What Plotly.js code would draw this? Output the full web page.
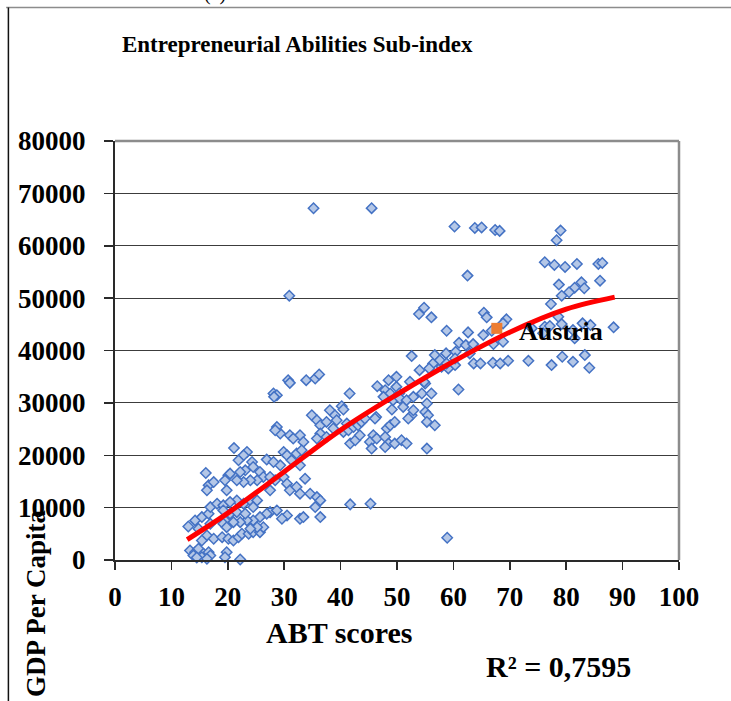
<!DOCTYPE html>
<html>
<head>
<meta charset="utf-8">
<script src="https://cdn.plot.ly/plotly-3.0.1.min.js"></script>
<style>html,body{margin:0;padding:0;background:#fff;}#chart{width:731px;height:701px;}</style>
</head>
<body>
<div id="chart"></div>
<script>
// ABT score (x) and GDP per capita (y) for each country-year
const abtScores = [
13.0,14.2,15.4,16.6,16.9,18.1,19.2,14.8,16.3,17.5,15.4,16.9,19.5,13.3,14.2,14.8,15.7,16.6,13.9,15.4,16.9,16.3,14.5,19.8,19.5,22.2,16.1,16.6,17.5,16.3,20.1,
34.9,35.8,36.4,38.1,39.0,37.5,38.7,36.4,37.5,35.8,39.3,28.7,29.3,28.4,31.0,32.8,31.6,33.4,29.9,30.5,32.2,33.1,31.3,32.8,29.3,26.9,28.1,23.4,22.8,21.9,21.1,
24.3,24.5,23.1,22.2,20.4,19.5,19.8,25.7,26.3,25.2,24.0,22.8,21.6,27.5,28.4,27.5,29.9,30.5,31.0,32.2,33.7,32.8,34.6,35.8,36.4,35.5,36.4,32.8,33.4,30.5,29.6,
27.5,26.9,28.7,25.7,24.5,23.4,22.2,21.0,19.2,21.6,20.4,22.8,24.0,25.2,24.5,19.2,20.4,21.6,23.1,19.0,20.1,21.0,21.9,22.5,23.7,24.5,25.7,26.3,25.2,24.0,19.8,
30.9,28.1,28.7,28.2,30.7,31.0,33.9,35.5,36.2,41.6,40.2,40.5,46.5,48.5,49.9,47.9,48.8,49.9,50.4,46.3,49.1,
41.1,40.5,41.4,42.3,41.7,42.6,43.4,43.1,43.7,44.3,46.1,45.8,45.2,45.5,46.4,48.2,48.8,49.6,47.9,48.5,49.6,50.8,51.7,51.1,52.6,52.0,52.9,54.4,55.0,56.1,55.3,
55.0,55.5,55.3,56.7,55.3,60.9,59.1,60.3,57.9,56.4,41.7,45.3,58.9,35.2,45.5,
52.3,47.6,49.3,50.5,51.7,52.9,47.9,
53.9,54.8,56.1,52.6,56.7,57.6,55.7,58.7,60.4,61.0,62.2,63.5,62.9,54.8,54.0,58.8,62.6,65.4,65.9,69.4,68.8,66.8,65.3,67.1,68.8,63.6,64.8,67.0,68.3,69.7,73.3,60.3,58.8,
60.2,63.8,65.0,67.4,68.2,79.0,78.3,62.5,76.2,77.9,79.8,81.9,85.7,86.4,86.0,78.7,82.7,83.2,81.5,80.5,79.2,77.3,78.6,79.2,81.2,82.9,84.3,81.5,88.4,76.2,77.1,
77.4,79.3,81.2,83.3,84.1,73.9,75.9
];
const gdpPerCapita = [
6400,7560,8190,8840,10100,10750,10430,5970,4690,4060,3730,6930,7560,1820,1490,2140,1190,1490,860,540,860,230,480,1490,540,100,16610,14250,14880,13300,16160,
27640,26690,25730,28600,27640,26370,25100,24140,23490,23180,26690,25400,24140,24770,23820,23820,23180,22540,20620,19990,20320,20950,19030,18080,18080,19170,18710,20620,19990,19030,21370,
18710,17750,17120,16800,16490,15210,13300,16800,15840,15210,15210,14880,15210,15840,15210,13300,15840,14580,13300,13930,15530,12660,12660,12010,11380,10100,8190,7880,8190,8510,7880,
9140,8840,9470,8190,7560,7560,7230,7230,6930,11380,11060,10750,11380,11380,10100,9470,8840,9140,8840,4360,4060,3730,4360,5010,5010,5320,5320,6270,6270,5970,6270,
50470,31790,31470,31150,34340,33820,34340,34660,35430,31790,29370,28730,33190,34340,34970,32430,31790,33060,31790,27320,28730,
26050,24450,24770,25400,22230,22860,23820,25730,26370,27010,27010,23820,22540,21270,23180,25100,25730,26370,23490,22230,22230,22860,22230,29230,27640,27010,28600,31790,33700,31790,29880,
28270,27640,26370,25730,21270,32560,36580,37210,36890,37530,10620,10750,4250,67160,67180,
34020,31150,30520,30840,30520,31150,21580,
46960,48170,46330,38930,39120,38160,36580,39450,39750,41470,41030,41220,39450,34010,36250,43770,43460,47210,46330,45950,45180,43770,42950,41230,41670,37530,37530,37650,37530,38030,38030,38490,37530,
63670,63400,63500,63000,62840,62900,61060,54300,56850,56340,55960,56530,56530,56720,53330,52580,53020,51880,52000,51120,50470,48880,46450,45050,43900,45180,44860,42320,44420,44530,44670,
37210,38800,37840,39120,36700,44230,43270
];
// Highlighted country
const austriaName = ["Austria"];
const austriaX = [67.7];
const austriaY = [44230];
// Polynomial trend line
const trendX = [12.8, 20, 30, 40, 50, 60, 70, 80, 88.6];
const trendY = [3900, 8950, 16850, 24800, 31600, 37900, 43500, 47900, 50200];
// Texts
const chartTitle = "Entrepreneurial Abilities Sub-index";
const xTitle = "ABT scores";
const yTitle = "GDP Per Capita";
const rSquared = "R² = 0,7595";

const serif = "Liberation Serif, Times New Roman, serif";

const traces = [
  {
    type: "scatter", mode: "markers", x: abtScores, y: gdpPerCapita, cliponaxis: false,
    marker: {symbol: "diamond", size: 8, color: "#b4c7e7", line: {color: "#4472c4", width: 1.5}},
    hoverinfo: "skip", showlegend: false
  },
  {
    type: "scatter", mode: "markers", x: austriaX, y: austriaY, cliponaxis: false,
    marker: {symbol: "square", size: 11, color: "#ed7d31", line: {width: 0}},
    hoverinfo: "skip", showlegend: false
  },
  {
    type: "scatter", mode: "lines", x: trendX, y: trendY, cliponaxis: false,
    line: {color: "#ff0000", width: 5, shape: "spline"},
    hoverinfo: "skip", showlegend: false
  }
];

const layout = {
  width: 731, height: 701,
  margin: {l: 115, r: 52, t: 141, b: 141, pad: 0},
  paper_bgcolor: "#ffffff", plot_bgcolor: "#ffffff",
  showlegend: false,
  title: {
    text: chartTitle, xref: "paper", x: 0.323, xanchor: "center",
    yref: "container", y: 0.937, yanchor: "middle",
    font: {family: serif, size: 23, weight: "bold", color: "#000"}
  },
  xaxis: {
    range: [0, 100], dtick: 10, tick0: 0, automargin: false,
    showgrid: false, zeroline: false,
    showline: true, linecolor: "#2a2a2a", linewidth: 2,
    ticks: "outside", ticklen: 8, tickwidth: 1.5, tickcolor: "#2a2a2a",
    ticklabelstandoff: 4,
    tickfont: {family: serif, size: 27, weight: "bold", color: "#000"}
  },
  yaxis: {
    range: [0, 80000], dtick: 10000, tick0: 0, tickformat: "d", automargin: false,
    showgrid: true, gridcolor: "#3c3c3c", gridwidth: 1, zeroline: false,
    showline: true, linecolor: "#2a2a2a", linewidth: 2,
    ticks: "outside", ticklen: 9, tickwidth: 1.5, tickcolor: "#2a2a2a",
    ticklabelstandoff: 13,
    tickfont: {family: serif, size: 27, weight: "bold", color: "#000"}
  },
  shapes: [
    {type: "line", xref: "paper", yref: "paper", x0: 0, x1: 1, y0: 1, y1: 1, line: {color: "#8c8c8c", width: 2.5}},
    {type: "line", xref: "paper", yref: "paper", x0: 1, x1: 1, y0: 0, y1: 1, line: {color: "#8c8c8c", width: 2.5}},
    {type: "line", xref: "paper", yref: "paper", x0: -0.193, x1: 1.2, y0: 1.3187, y1: 1.3187, line: {color: "#8c8c8c", width: 1.5}},
    {type: "line", xref: "paper", yref: "paper", x0: -0.189, x1: -0.189, y0: 1.3187, y1: -0.34, line: {color: "#111", width: 1.5}}
  ],
  annotations: [
    {text: austriaName[0], x: austriaX[0], y: austriaY[0], xref: "x", yref: "y",
     xanchor: "left", yanchor: "middle", xshift: 20, yshift: -3, showarrow: false,
     font: {family: serif, size: 26, weight: "bold", color: "#000"}},
    {text: xTitle, xref: "paper", yref: "paper", x: 0.397, y: -0.173, xanchor: "center", yanchor: "middle",
     showarrow: false, font: {family: serif, size: 30, weight: "bold", color: "#000"}},
    {text: yTitle, xref: "paper", yref: "paper", x: -0.141, y: -0.104, xanchor: "center", yanchor: "middle",
     textangle: -90, showarrow: false, font: {family: serif, size: 27, weight: "bold", color: "#000"}},
    {text: rSquared, xref: "paper", yref: "paper", x: 0.787, y: -0.255, xanchor: "center", yanchor: "middle",
     showarrow: false, font: {family: serif, size: 30, weight: "bold", color: "#000"}},
    {text: "(a)", xref: "paper", yref: "paper", x: 0.177, y: 1.321, xanchor: "center", yanchor: "bottom",
     showarrow: false, font: {family: serif, size: 20, color: "#000"}}
  ]
};

Plotly.newPlot("chart", traces, layout, {staticPlot: true, displayModeBar: false});
</script>
</body>
</html>
